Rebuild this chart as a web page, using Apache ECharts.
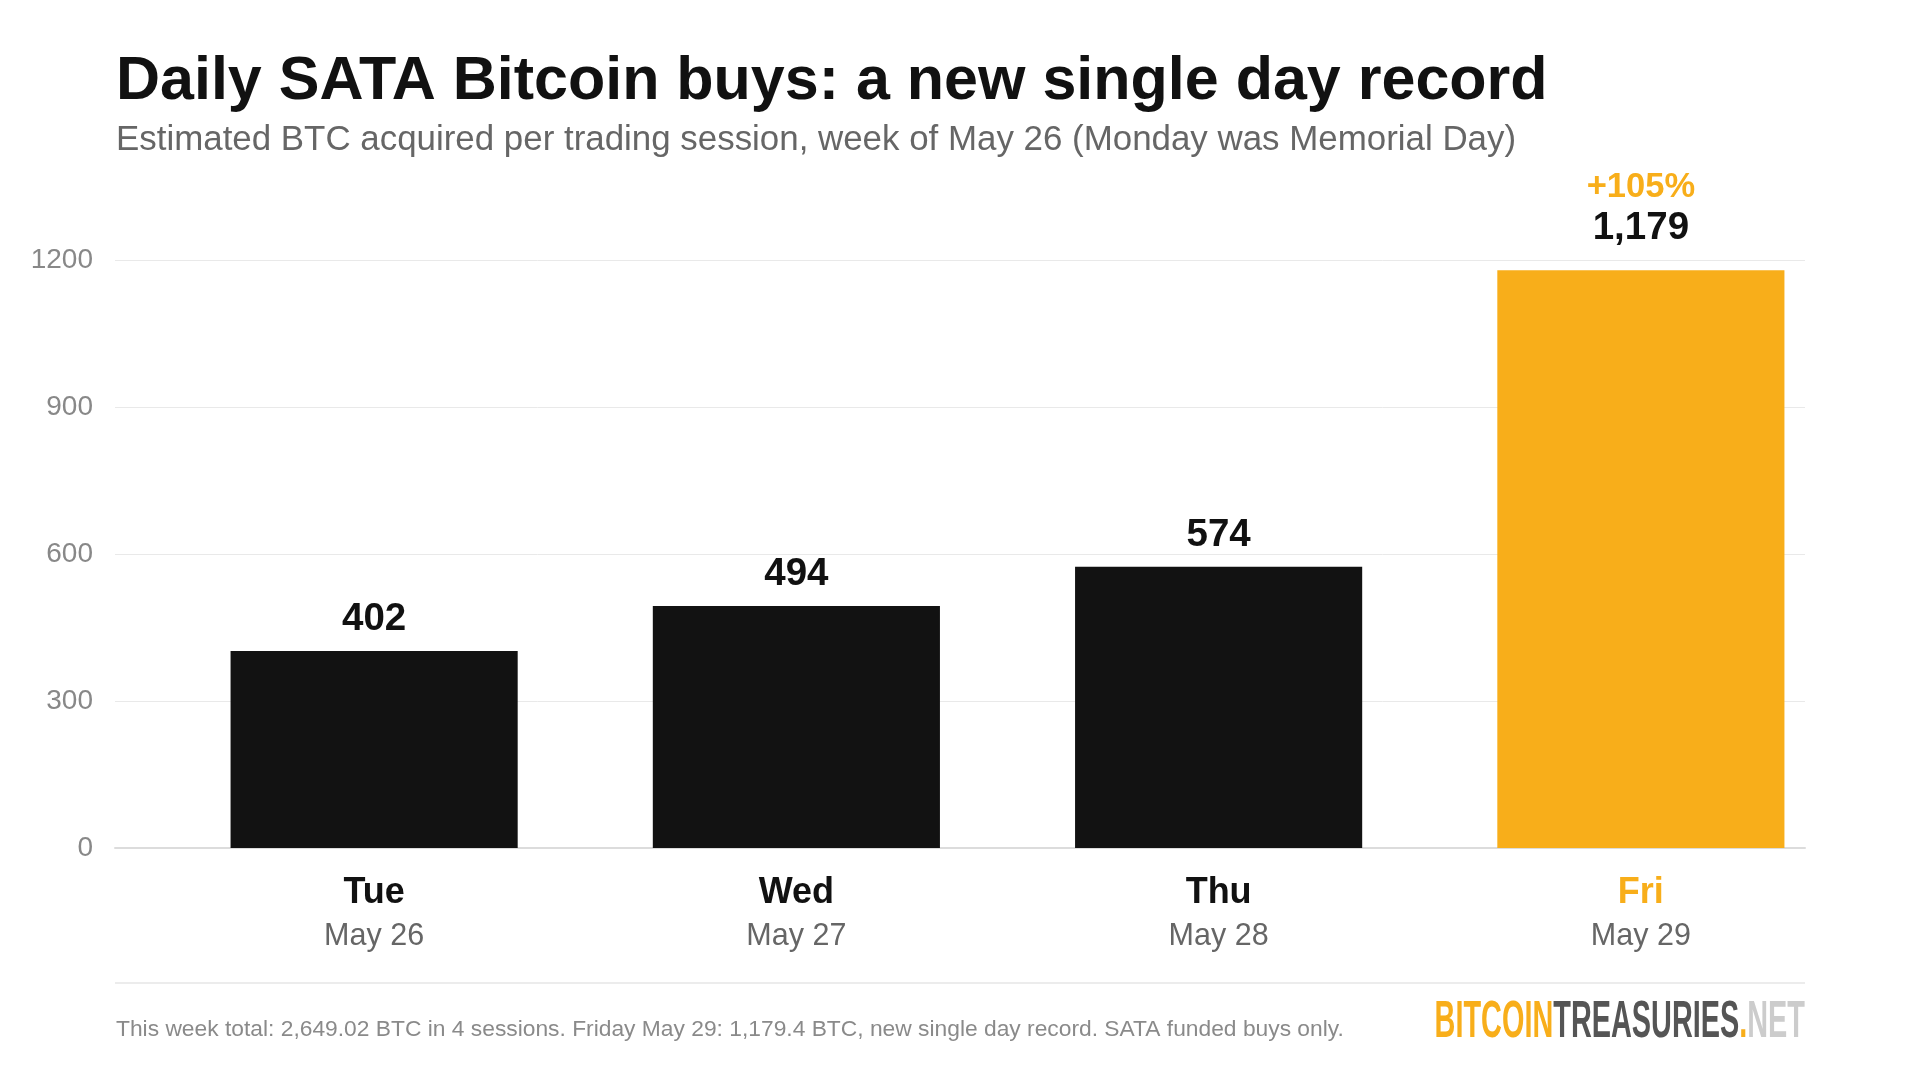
<!DOCTYPE html>
<html>
<head>
<meta charset="utf-8">
<script src="https://cdn.jsdelivr.net/npm/echarts@6/dist/echarts.min.js"></script>
<style>
html,body{margin:0;padding:0;background:#fff;}
#chart{width:1920px;height:1088px;}
</style>
</head>
<body>
<div id="chart"></div>
<script>
// ---- data ----
const days = ['Tue', 'Wed', 'Thu', 'Fri'];
const dates = ['May 26', 'May 27', 'May 28', 'May 29'];
const btcBought = [402, 494, 574, 1179];
const highlightIndex = 3;
const highlightNote = '+105%';
const yTicks = [0, 300, 600, 900, 1200];

const titleText = 'Daily SATA Bitcoin buys: a new single day record';
const subtitleText = 'Estimated BTC acquired per trading session, week of May 26 (Monday was Memorial Day)';
const footerText = 'This week total: 2,649.02 BTC in 4 sessions. Friday May 29: 1,179.4 BTC, new single day record. SATA funded buys only.';

const ORANGE = '#F8AE1A';
const BLACK = '#121212';
const FONT = '"Liberation Sans", Arial, sans-serif';
const NARROW = '"Liberation Sans Narrow", "Liberation Sans", sans-serif';

const chart = echarts.init(document.getElementById('chart'));

const yMin = yTicks[0], yMax = yTicks[yTicks.length - 1], yStep = yTicks[1] - yTicks[0];

const seriesData = btcBought.map((v, i) => ({
  value: v,
  itemStyle: { color: i === highlightIndex ? ORANGE : BLACK },
  label: i === highlightIndex ? {
    distance: 21,
    formatter: '{p|' + highlightNote + '}\n{v|' + v.toLocaleString('en-US') + '}'
  } : {
    formatter: '{v|' + v.toLocaleString('en-US') + '}'
  }
}));

const option = {
  backgroundColor: '#ffffff',
  animation: false,
  textStyle: { fontFamily: FONT },
  title: [
    { text: titleText, left: 111, top: 47,
      textStyle: { fontFamily: FONT, fontSize: 61, fontWeight: 'bold', color: '#111111' } },
    { text: subtitleText, left: 111, top: 118,
      textStyle: { fontFamily: FONT, fontSize: 34.9, fontWeight: 'normal', color: '#666666' } },
    { text: footerText, left: 111, top: 1013,
      textStyle: { fontFamily: FONT, fontSize: 22.8, fontWeight: 'normal', color: '#8a8a8a' } }
  ],
  grid: [
    { left: 115, right: 115, top: 260, bottom: 240 },
    { left: 163, right: 68, top: 260, bottom: 240 }
  ],
  xAxis: [
    { type: 'category', gridIndex: 0, data: days,
      axisLine: { show: true, lineStyle: { color: '#dcdcdc', width: 2 } },
      axisTick: { show: false }, axisLabel: { show: false }, splitLine: { show: false } },
    { type: 'category', gridIndex: 1, data: days,
      axisLine: { show: false }, axisTick: { show: false },
      axisLabel: {
        margin: 24,
        formatter: function (val, idx) {
          const d = idx === highlightIndex ? 'h' : 'd';
          return '{' + d + '|' + val + '}\n{m|' + dates[idx] + '}';
        },
        rich: {
          d: { fontFamily: FONT, fontSize: 36, fontWeight: 'bold', color: '#111111', lineHeight: 43 },
          h: { fontFamily: FONT, fontSize: 36, fontWeight: 'bold', color: ORANGE, lineHeight: 43 },
          m: { fontFamily: FONT, fontSize: 30.5, color: '#666666', lineHeight: 43 }
        }
      } }
  ],
  yAxis: [
    { type: 'value', gridIndex: 0, min: yMin, max: yMax, interval: yStep,
      axisLine: { show: false }, axisTick: { show: false },
      axisLabel: { margin: 22, fontFamily: FONT, fontSize: 28, color: '#888888',
        padding: [0, 0, 5, 0],
        formatter: function (v) { return String(v); } },
      splitLine: { lineStyle: { color: '#e9e9e9', width: 1 } } },
    { type: 'value', gridIndex: 1, min: yMin, max: yMax, interval: yStep,
      axisLine: { show: false }, axisTick: { show: false },
      axisLabel: { show: false }, splitLine: { show: false } }
  ],
  series: [
    { type: 'bar', xAxisIndex: 1, yAxisIndex: 1, barWidth: '68%',
      data: seriesData,
      label: {
        show: true, position: 'top', distance: 11,
        rich: {
          v: { fontFamily: FONT, fontSize: 38.5, fontWeight: 'bold', color: '#111111', lineHeight: 41 },
          p: { fontFamily: FONT, fontSize: 34.5, fontWeight: 'bold', color: ORANGE, lineHeight: 41 }
        }
      } }
  ],
  graphic: [
    { type: 'line', shape: { x1: 115, y1: 983, x2: 1805, y2: 983 },
      style: { stroke: '#ececec', lineWidth: 2 } },
    { type: 'text', right: 115, top: 997, scaleX: 0.555,
      style: {
        text: '{o|BITCOIN}{g|TREASURIES}{o|.}{l|NET}',
        rich: {
          o: { fontFamily: NARROW, fontSize: 52, fontWeight: 'bold', fill: ORANGE },
          g: { fontFamily: NARROW, fontSize: 52, fontWeight: 'bold', fill: '#555555' },
          l: { fontFamily: NARROW, fontSize: 52, fontWeight: 'bold', fill: '#cccccc' }
        }
      } }
  ]
};

chart.setOption(option);
</script>
</body>
</html>
